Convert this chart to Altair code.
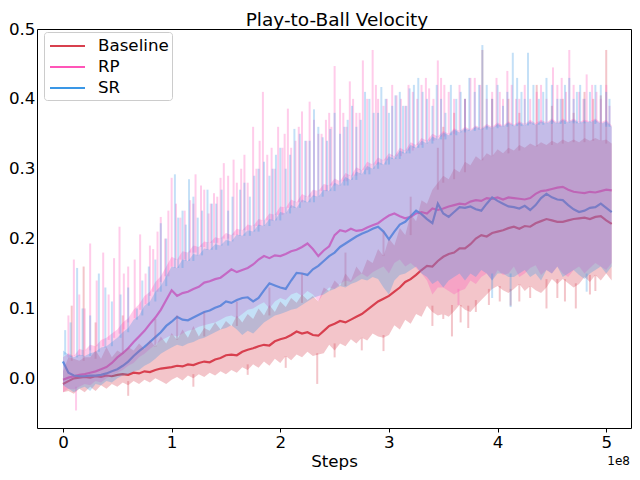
import altair as alt
import pandas as pd

names = ["Baseline", "RP", "SR"]
colors = ["#d8404e", "#ff55b8", "#3a97e6"]

# sampling grid: one point every 0.05e8 steps, 0 .. 5.05e8
steps = [i * 5_000_000 for i in range(102)]

baseline_mean = [
    -0.008, -0.004, 0.000, 0.001, 0.002, 0.001, 0.003, 0.002, 0.004, 0.003,
    0.005, 0.006, 0.005, 0.008, 0.007, 0.010, 0.009, 0.012, 0.014, 0.015,
    0.016, 0.018, 0.017, 0.020, 0.019, 0.022, 0.024, 0.023, 0.027, 0.029,
    0.033, 0.034, 0.033, 0.038, 0.041, 0.043, 0.046, 0.048, 0.047, 0.053,
    0.056, 0.058, 0.062, 0.067, 0.064, 0.066, 0.062, 0.061, 0.068, 0.075,
    0.078, 0.082, 0.080, 0.084, 0.088, 0.092, 0.098, 0.104, 0.110, 0.114,
    0.118, 0.124, 0.130, 0.138, 0.142, 0.148, 0.155, 0.161, 0.160, 0.168,
    0.174, 0.178, 0.180, 0.186, 0.186, 0.192, 0.200, 0.205, 0.203, 0.208,
    0.210, 0.212, 0.215, 0.217, 0.214, 0.218, 0.217, 0.222, 0.225, 0.228,
    0.226, 0.224, 0.224, 0.226, 0.228, 0.229, 0.230, 0.228, 0.231, 0.232,
    0.226, 0.221,
]
baseline_hi = [
    0.010, 0.030, 0.028, 0.025, 0.030, 0.030, 0.040, 0.028, 0.045, 0.030,
    0.040, 0.035, 0.045, 0.040, 0.050, 0.042, 0.055, 0.045, 0.060, 0.050,
    0.065, 0.055, 0.070, 0.058, 0.075, 0.060, 0.072, 0.068, 0.080, 0.070,
    0.082, 0.075, 0.090, 0.080, 0.092, 0.085, 0.100, 0.090, 0.105, 0.095,
    0.110, 0.102, 0.115, 0.108, 0.120, 0.112, 0.118, 0.110, 0.130, 0.125,
    0.140, 0.132, 0.150, 0.140, 0.160, 0.150, 0.170, 0.165, 0.185, 0.175,
    0.200, 0.190, 0.215, 0.205, 0.235, 0.225, 0.255, 0.250, 0.270, 0.280,
    0.290, 0.285, 0.300, 0.295, 0.310, 0.305, 0.318, 0.312, 0.322, 0.318,
    0.328, 0.322, 0.330, 0.326, 0.334, 0.330, 0.336, 0.332, 0.338, 0.334,
    0.340, 0.336, 0.342, 0.338, 0.342, 0.338, 0.344, 0.340, 0.344, 0.340,
    0.342, 0.336,
]
baseline_lo = [
    -0.020, -0.018, -0.022, -0.015, -0.020, -0.012, -0.018, -0.010, -0.015, -0.008,
    -0.012, -0.006, -0.010, -0.004, -0.008, -0.002, -0.006, 0.000, -0.004, -0.008,
    -0.002, 0.002, -0.003, 0.004, 0.000, 0.006, 0.002, 0.008, 0.004, 0.010,
    0.006, 0.012, 0.008, 0.016, 0.012, 0.020, 0.015, 0.024, 0.018, 0.028,
    0.022, 0.032, 0.026, 0.034, 0.030, 0.038, 0.032, 0.034, 0.036, 0.048,
    0.040, 0.050, 0.046, 0.056, 0.050, 0.058, 0.054, 0.064, 0.060, 0.058,
    0.062, 0.076, 0.070, 0.084, 0.078, 0.092, 0.088, 0.104, 0.095, 0.090,
    0.092, 0.088, 0.096, 0.105, 0.098, 0.095, 0.104, 0.112, 0.120, 0.128,
    0.132, 0.126, 0.122, 0.128, 0.135, 0.125, 0.132, 0.126, 0.122, 0.130,
    0.142, 0.135, 0.142, 0.136, 0.130, 0.135, 0.145, 0.138, 0.148, 0.140,
    0.150, 0.140,
]

rp_mean = [
    -0.002, 0.001, 0.003, 0.005, 0.006, 0.008, 0.010, 0.013, 0.016, 0.022,
    0.030, 0.036, 0.043, 0.052, 0.060, 0.068, 0.078, 0.087, 0.098, 0.112,
    0.126, 0.118, 0.122, 0.124, 0.128, 0.131, 0.137, 0.139, 0.142, 0.144,
    0.150, 0.156, 0.152, 0.155, 0.158, 0.163, 0.170, 0.175, 0.172, 0.176,
    0.175, 0.178, 0.182, 0.184, 0.188, 0.193, 0.185, 0.175, 0.183, 0.189,
    0.205, 0.212, 0.210, 0.214, 0.211, 0.212, 0.216, 0.219, 0.222, 0.228,
    0.233, 0.236, 0.232, 0.229, 0.231, 0.236, 0.238, 0.236, 0.243, 0.241,
    0.243, 0.246, 0.248, 0.250, 0.249, 0.253, 0.255, 0.254, 0.258, 0.257,
    0.259, 0.256, 0.259, 0.258, 0.257, 0.256, 0.258, 0.264, 0.268, 0.269,
    0.271, 0.273, 0.274, 0.270, 0.267, 0.266, 0.265, 0.267, 0.266, 0.268,
    0.270, 0.269,
]
rp_hi = [
    0.030, 0.036, 0.032, 0.042, 0.040, 0.048, 0.046, 0.055, 0.058, 0.064,
    0.070, 0.080, 0.086, 0.098, 0.106, 0.118, 0.124, 0.138, 0.146, 0.160,
    0.174, 0.170, 0.182, 0.180, 0.190, 0.188, 0.196, 0.194, 0.202, 0.200,
    0.208, 0.205, 0.214, 0.212, 0.220, 0.218, 0.228, 0.226, 0.236, 0.234,
    0.246, 0.244, 0.256, 0.252, 0.264, 0.260, 0.270, 0.268, 0.278, 0.276,
    0.286, 0.282, 0.294, 0.290, 0.302, 0.298, 0.310, 0.306, 0.316, 0.312,
    0.322, 0.318, 0.330, 0.326, 0.338, 0.334, 0.344, 0.340, 0.350, 0.346,
    0.354, 0.350, 0.358, 0.354, 0.360, 0.356, 0.362, 0.358, 0.364, 0.360,
    0.366, 0.362, 0.368, 0.363, 0.368, 0.364, 0.370, 0.365, 0.370, 0.366,
    0.372, 0.366, 0.372, 0.368, 0.372, 0.367, 0.370, 0.368, 0.372, 0.366,
    0.370, 0.362,
]
rp_lo = [
    -0.020, -0.015, -0.016, -0.012, -0.008, -0.010, -0.004, -0.006, 0.000, 0.004,
    0.008, 0.012, 0.018, 0.022, 0.030, 0.035, 0.042, 0.048, 0.054, 0.058,
    0.062, 0.060, 0.064, 0.068, 0.070, 0.074, 0.076, 0.078, 0.080, 0.084,
    0.088, 0.090, 0.086, 0.092, 0.098, 0.100, 0.105, 0.109, 0.100, 0.110,
    0.115, 0.112, 0.120, 0.123, 0.118, 0.125, 0.120, 0.110, 0.122, 0.130,
    0.128, 0.135, 0.140, 0.138, 0.145, 0.150, 0.145, 0.152, 0.156, 0.160,
    0.150, 0.165, 0.170, 0.160, 0.165, 0.158, 0.150, 0.140, 0.120, 0.130,
    0.130, 0.125, 0.120, 0.125, 0.128, 0.140, 0.135, 0.145, 0.150, 0.140,
    0.155, 0.148, 0.150, 0.160, 0.145, 0.150, 0.158, 0.162, 0.148, 0.155,
    0.150, 0.160, 0.150, 0.145, 0.155, 0.160, 0.150, 0.158, 0.165, 0.160,
    0.155, 0.165,
]

sr_mean = [
    0.024, 0.008, 0.004, 0.003, 0.003, 0.004, 0.004, 0.005, 0.007, 0.010,
    0.013, 0.018, 0.024, 0.032, 0.039, 0.045, 0.052, 0.059, 0.066, 0.075,
    0.081, 0.088, 0.084, 0.083, 0.087, 0.091, 0.095, 0.097, 0.101, 0.104,
    0.110, 0.108, 0.112, 0.115, 0.116, 0.110, 0.115, 0.126, 0.136, 0.133,
    0.130, 0.128, 0.140, 0.151, 0.150, 0.148, 0.156, 0.161, 0.168, 0.175,
    0.180, 0.188, 0.193, 0.198, 0.203, 0.207, 0.210, 0.214, 0.217, 0.210,
    0.199, 0.210, 0.220, 0.224, 0.232, 0.240, 0.235, 0.228, 0.222, 0.250,
    0.236, 0.231, 0.238, 0.245, 0.244, 0.246, 0.242, 0.240, 0.250, 0.259,
    0.254, 0.250, 0.246, 0.245, 0.243, 0.247, 0.241, 0.248, 0.258, 0.264,
    0.259, 0.256, 0.255, 0.248, 0.242, 0.238, 0.240, 0.244, 0.245, 0.250,
    0.244, 0.238,
]
sr_hi = [
    0.040, 0.034, 0.030, 0.034, 0.032, 0.036, 0.038, 0.044, 0.046, 0.052,
    0.058, 0.066, 0.072, 0.084, 0.090, 0.104, 0.110, 0.124, 0.132, 0.146,
    0.160, 0.158, 0.170, 0.168, 0.178, 0.176, 0.186, 0.184, 0.192, 0.190,
    0.198, 0.196, 0.206, 0.204, 0.212, 0.210, 0.220, 0.218, 0.228, 0.226,
    0.238, 0.236, 0.248, 0.244, 0.256, 0.252, 0.262, 0.260, 0.270, 0.268,
    0.280, 0.276, 0.288, 0.284, 0.296, 0.292, 0.304, 0.300, 0.310, 0.306,
    0.318, 0.314, 0.326, 0.322, 0.334, 0.330, 0.340, 0.336, 0.346, 0.342,
    0.352, 0.348, 0.356, 0.352, 0.358, 0.354, 0.360, 0.356, 0.362, 0.358,
    0.364, 0.360, 0.366, 0.361, 0.366, 0.362, 0.368, 0.363, 0.368, 0.364,
    0.370, 0.364, 0.370, 0.366, 0.370, 0.365, 0.368, 0.366, 0.370, 0.364,
    0.368, 0.360,
]
sr_lo = [
    -0.010, -0.015, -0.020, -0.015, -0.012, -0.018, -0.008, -0.010, -0.004, -0.006,
    0.000, 0.004, 0.006, 0.010, 0.012, 0.018, 0.022, 0.028, 0.035, 0.040,
    0.044, 0.048, 0.046, 0.050, 0.052, 0.056, 0.058, 0.062, 0.066, 0.070,
    0.072, 0.076, 0.070, 0.062, 0.068, 0.064, 0.072, 0.080, 0.085, 0.090,
    0.092, 0.095, 0.098, 0.100, 0.105, 0.110, 0.115, 0.118, 0.120, 0.125,
    0.128, 0.132, 0.130, 0.135, 0.138, 0.142, 0.140, 0.145, 0.142, 0.130,
    0.120, 0.140, 0.148, 0.150, 0.155, 0.160, 0.150, 0.145, 0.135, 0.140,
    0.130, 0.140, 0.145, 0.150, 0.140, 0.150, 0.145, 0.155, 0.150, 0.140,
    0.150, 0.150, 0.145, 0.145, 0.150, 0.155, 0.145, 0.150, 0.140, 0.155,
    0.150, 0.160, 0.145, 0.150, 0.155, 0.148, 0.142, 0.150, 0.155, 0.160,
    0.150, 0.160,
]

# thin spikes of each band (position in units of 1e8 steps, value reached)
baseline_spike_x = [0.08, 0.19, 0.30, 0.55, 0.85, 1.05, 1.30, 1.60, 1.90, 2.20, 2.60,
                    2.95, 3.20, 3.45, 3.50, 3.60, 3.70, 3.86, 3.95, 4.10, 4.20, 4.36,
                    4.50, 4.60, 4.70, 4.80, 4.88, 4.95, 5.00,
                    0.60, 1.20, 1.70, 2.05, 2.34, 2.50, 2.75, 2.95, 3.40, 3.50, 3.58,
                    3.66, 3.73, 3.80, 3.92, 4.02, 4.12, 4.20, 4.30, 4.45, 4.55, 4.62,
                    4.72, 4.85, 4.90]
baseline_spike_y = [0.104, 0.160, 0.080, 0.090, 0.085, 0.090, 0.095, 0.110, 0.130, 0.150, 0.180,
                    0.210, 0.260, 0.330, 0.360, 0.380, 0.400, 0.470, 0.400, 0.400, 0.380, 0.420,
                    0.390, 0.400, 0.380, 0.410, 0.400, 0.405, 0.470,
                    -0.025, -0.012, 0.005, 0.015, -0.008, 0.030, 0.040, 0.039, 0.075, 0.085, 0.060,
                    0.080, 0.072, 0.095, 0.105, 0.110, 0.104, 0.110, 0.115, 0.100, 0.115, 0.110,
                    0.100, 0.120, 0.125]
rp_spike_x = [0.10, 0.25, 0.37, 0.47, 0.52, 0.60, 0.71, 0.76, 0.83, 0.90, 0.94, 1.00,
              1.08, 1.17, 1.22, 1.27, 1.34, 1.39, 1.45, 1.48, 1.57, 1.64, 1.70, 1.75,
              1.84, 1.88, 1.98, 2.02, 2.07, 2.14, 2.20, 2.27, 2.35, 2.42, 2.50, 2.55,
              2.64, 2.70, 2.76, 2.85, 2.90, 2.95, 3.07, 3.11, 3.22, 3.30, 3.37, 3.45,
              3.51, 3.60, 3.79, 3.95, 4.02, 4.09, 4.20, 4.36, 4.51, 4.59, 4.66, 4.75,
              4.82, 4.91, 5.00,
              0.05, 0.15, 0.20, 0.31, 0.42, 0.56, 0.66, 0.80, 0.87, 0.97, 1.04, 1.12,
              1.20, 1.30, 1.36, 1.42, 1.52, 1.60, 1.67, 1.78, 1.81, 1.92, 1.95, 2.04,
              2.10, 2.17, 2.24, 2.31, 2.38, 2.45, 2.47, 2.58, 2.61, 2.67, 2.73, 2.80,
              2.88, 2.98, 3.03, 3.15, 3.18, 3.26, 3.34, 3.41, 3.48, 3.55, 3.65, 3.70,
              3.75, 3.84, 3.90, 3.99, 4.05, 4.13, 4.17, 4.25, 4.30, 4.40, 4.45, 4.55,
              4.63, 4.70, 4.79, 4.87, 4.95, 5.03,
              0.12, 3.64]
rp_spike_y = [0.170, 0.193, 0.180, 0.172, 0.217, 0.160, 0.206, 0.150, 0.185, 0.231, 0.200, 0.287,
              0.230, 0.255, 0.292, 0.276, 0.236, 0.265, 0.287, 0.308, 0.313, 0.300, 0.280, 0.360,
              0.410, 0.320, 0.360, 0.330, 0.386, 0.340, 0.382, 0.396, 0.350, 0.370, 0.447, 0.400,
              0.425, 0.380, 0.455, 0.470, 0.400, 0.390, 0.405, 0.400, 0.410, 0.420, 0.415, 0.455,
              0.420, 0.400, 0.430, 0.410, 0.410, 0.440, 0.400, 0.410, 0.445, 0.430, 0.470, 0.410,
              0.435, 0.410, 0.420,
              0.090, 0.120, 0.100, 0.140, 0.120, 0.150, 0.170, 0.190, 0.210, 0.240, 0.250, 0.240,
              0.250, 0.270, 0.250, 0.260, 0.290, 0.280, 0.320, 0.300, 0.340, 0.330, 0.300, 0.350,
              0.330, 0.360, 0.340, 0.370, 0.350, 0.380, 0.360, 0.380, 0.360, 0.400, 0.380, 0.400,
              0.420, 0.400, 0.420, 0.390, 0.420, 0.400, 0.430, 0.400, 0.430, 0.410, 0.420, 0.400,
              0.430, 0.420, 0.400, 0.430, 0.400, 0.420, 0.400, 0.420, 0.400, 0.420, 0.400, 0.420,
              0.410, 0.420, 0.400, 0.420, 0.400, 0.390,
              -0.046, 0.105]
sr_spike_x = [0.02, 0.13, 0.33, 0.39, 0.53, 0.68, 0.79, 0.90, 1.03, 1.10, 1.16, 1.24,
              1.33, 1.41, 1.52, 1.63, 1.72, 1.80, 1.90, 1.96, 2.05, 2.13, 2.23, 2.31,
              2.39, 2.46, 2.55, 2.62, 2.70, 2.78, 2.86, 2.93, 3.00, 3.06, 3.13, 3.19,
              3.27, 3.31, 3.40, 3.52, 3.62, 3.70, 3.83, 3.86, 3.95, 4.05, 4.14, 4.22,
              4.28, 4.38, 4.45, 4.55, 4.62, 4.70, 4.76, 4.85, 4.95, 5.03,
              0.07, 0.18, 0.25, 0.45, 0.60, 0.73, 0.85, 0.95, 1.06, 1.13, 1.20, 1.28,
              1.37, 1.46, 1.56, 1.67, 1.76, 1.85, 1.93, 2.00, 2.09, 2.18, 2.27, 2.35,
              2.43, 2.50, 2.59, 2.66, 2.74, 2.82, 2.90, 2.97, 3.03, 3.10, 3.16, 3.23,
              3.35, 3.44, 3.48, 3.57, 3.66, 3.74, 3.79, 3.90, 4.00, 4.09, 4.18, 4.25,
              4.33, 4.42, 4.50, 4.58, 4.66, 4.73, 4.80, 4.90, 5.00,
              3.95, 4.12, 4.82]
sr_spike_y = [0.069, 0.158, 0.150, 0.130, 0.120, 0.100, 0.160, 0.222, 0.292, 0.240, 0.285, 0.230,
              0.270, 0.250, 0.240, 0.270, 0.260, 0.300, 0.290, 0.320, 0.300, 0.357, 0.340, 0.385,
              0.345, 0.357, 0.350, 0.370, 0.360, 0.410, 0.380, 0.417, 0.380, 0.405, 0.390, 0.415,
              0.430, 0.410, 0.390, 0.380, 0.400, 0.400, 0.420, 0.477, 0.400, 0.390, 0.466, 0.410,
              0.466, 0.400, 0.430, 0.400, 0.420, 0.400, 0.420, 0.410, 0.420, 0.400,
              0.080, 0.100, 0.090, 0.110, 0.130, 0.140, 0.170, 0.200, 0.230, 0.220, 0.260, 0.240,
              0.250, 0.270, 0.260, 0.280, 0.290, 0.310, 0.300, 0.330, 0.320, 0.350, 0.340, 0.360,
              0.340, 0.380, 0.360, 0.390, 0.370, 0.400, 0.380, 0.400, 0.390, 0.410, 0.390, 0.420,
              0.400, 0.420, 0.400, 0.420, 0.410, 0.430, 0.410, 0.420, 0.420, 0.410, 0.430, 0.400,
              0.420, 0.410, 0.420, 0.400, 0.430, 0.410, 0.400, 0.420, 0.410,
              0.115, 0.102, 0.124]

x_ticks = [0, 100000000, 200000000, 300000000, 400000000, 500000000]
y_ticks = [0.0, 0.1, 0.2, 0.3, 0.4, 0.5]

series = {
    "Baseline": (baseline_mean, baseline_lo, baseline_hi, baseline_spike_x, baseline_spike_y),
    "RP": (rp_mean, rp_lo, rp_hi, rp_spike_x, rp_spike_y),
    "SR": (sr_mean, sr_lo, sr_hi, sr_spike_x, sr_spike_y),
}
rows, spike_rows = [], []
for name in names:
    m, lo, hi, sx, sy = series[name]
    for i, s in enumerate(steps):
        rows.append({"step": s, "series": name, "mean": m[i], "lo": lo[i], "hi": hi[i]})
    for x, top in zip(sx, sy):
        i = min(len(steps) - 1, int(round(x * 20)))
        nb = [hi[j] for j in (i - 1, i, i + 1) if 0 <= j < len(steps)]
        nl = [lo[j] for j in (i - 1, i, i + 1) if 0 <= j < len(steps)]
        base = min(nb) if top > m[i] else max(nl)
        spike_rows.append({"step": x * 1e8, "series": name, "base": base, "top": top})
df = pd.DataFrame(rows)
sdf = pd.DataFrame(spike_rows)

FONT = "DejaVu Sans"
xscale = alt.Scale(domain=[-23930000, 522800000], nice=False, zero=False)
yscale = alt.Scale(domain=[-0.0711, 0.5], nice=False, zero=False)

xaxis = alt.Axis(values=x_ticks, labelExpr="datum.value / 100000000", tickSize=4,
                 tickColor="black", tickWidth=1, labelFontSize=16.7, labelColor="black",
                 labelPadding=2, titleFontSize=16.7, titleFontWeight="normal",
                 titleColor="black", titlePadding=3, domain=False, grid=False,
                 labelFlush=False, labelOverlap=False, labelFont=FONT, titleFont=FONT)
yaxis = alt.Axis(values=y_ticks, format=".1f", ticks=False, labelFontSize=16.7,
                 labelColor="black", labelPadding=2, domain=False, grid=False,
                 labelFlush=False, labelOverlap=False, labelFont=FONT)

lines = alt.Chart(df).mark_line(strokeWidth=2.2).encode(
    x=alt.X("step:Q", scale=xscale, axis=xaxis, title="Steps"),
    y=alt.Y("mean:Q", scale=yscale, axis=yaxis, title=None),
    color=alt.Color(
        "series:N",
        scale=alt.Scale(domain=names, range=colors),
        legend=alt.Legend(
            title=None, orient="none", legendX=7, legendY=3,
            symbolType="M-0.8,0H2.7", symbolSize=400, symbolStrokeWidth=2,
            labelFontSize=16.7, labelFont=FONT, labelColor="black",
            labelOffset=29, rowPadding=1, padding=3,
            strokeColor="#cccccc", fillColor="rgba(255,255,255,0.8)",
            cornerRadius=3,
        ),
    ),
)

bands = []
for name, c in zip(names, colors):
    bands.append(
        alt.Chart(df).transform_filter(alt.datum.series == name)
        .mark_area(opacity=0.3, color=c)
        .encode(x=alt.X("step:Q", scale=xscale), y=alt.Y("lo:Q", scale=yscale), y2="hi:Q")
    )
    bands.append(
        alt.Chart(sdf).transform_filter(alt.datum.series == name)
        .mark_rule(opacity=0.3, color=c, strokeWidth=2)
        .encode(x=alt.X("step:Q", scale=xscale), y=alt.Y("base:Q", scale=yscale), y2="top:Q")
    )

labels = pd.DataFrame({"t": ["Play-to-Ball Velocity", "1e8"]})
title_txt = alt.Chart(labels).transform_filter(alt.datum.t == "Play-to-Ball Velocity").mark_text(
    align="center", baseline="alphabetic", fontSize=18.5, font=FONT, color="black"
).encode(text="t:N", x=alt.value(300), y=alt.value(-3.5))
offset_txt = alt.Chart(labels).transform_filter(alt.datum.t == "1e8").mark_text(
    align="right", baseline="alphabetic", fontSize=12, font=FONT, color="black"
).encode(text="t:N", x=alt.value(593), y=alt.value(436))

chart = alt.layer(lines, *bands, title_txt, offset_txt).properties(
    width=594, height=399,
    autosize=alt.AutoSizeParams(type="none"),
    padding={"left": 29, "top": 21, "right": 1, "bottom": 44},
).configure_view(stroke="black", strokeWidth=1)

chart.save("out.html", embed_options={"renderer": "svg", "actions": False})
